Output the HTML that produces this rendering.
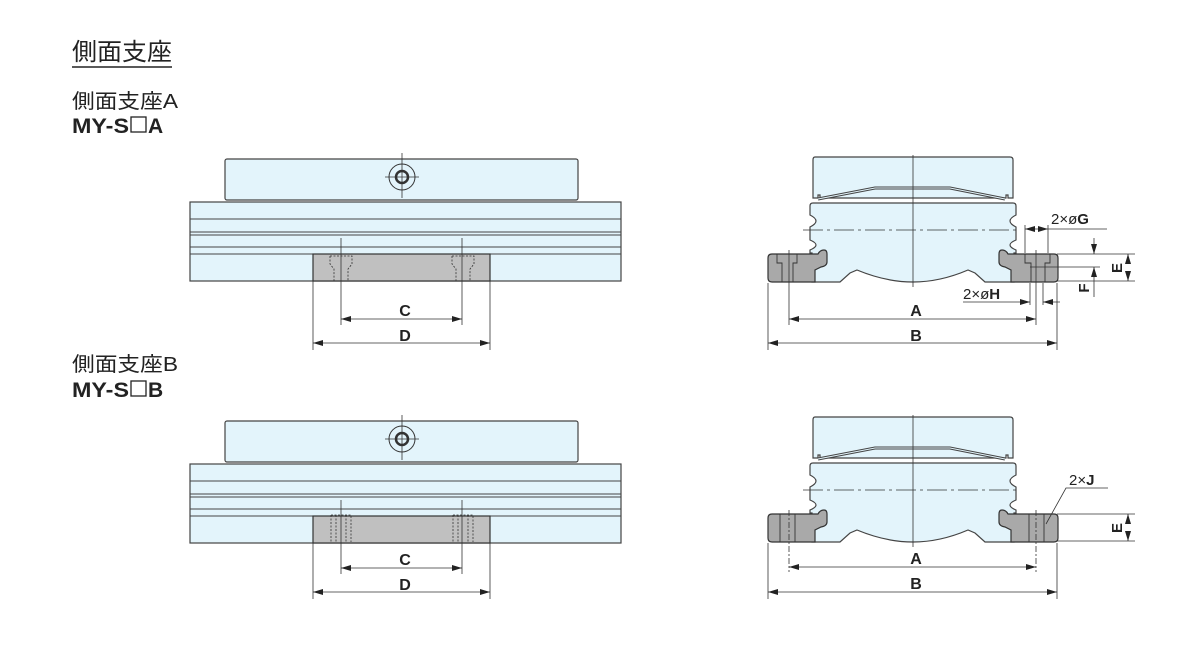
<!DOCTYPE html>
<html><head><meta charset="utf-8"><style>
html,body{margin:0;padding:0;background:#fff;width:1200px;height:650px;overflow:hidden}
svg{display:block}
text{font-family:"Liberation Sans","Noto Sans CJK JP",sans-serif;fill:#222}
</style></head><body>
<svg width="1200" height="650" viewBox="0 0 1200 650" xmlns="http://www.w3.org/2000/svg">
<defs>
<marker id="ar" viewBox="0 0 10 6" refX="10" refY="3" markerWidth="10" markerHeight="6" orient="auto-start-reverse" markerUnits="userSpaceOnUse"><path d="M0,0L10,3L0,6z" fill="#222"/></marker>
<g id="side">
 <rect x="225" y="159" width="353" height="41" rx="2" fill="#e3f4fb" stroke="#444" stroke-width="1.2"/>
 <circle cx="402" cy="177" r="13" fill="none" stroke="#333" stroke-width="1"/>
 <circle cx="402" cy="177" r="6" fill="#e3f4fb" stroke="#333" stroke-width="2.5"/>
 <line x1="385" y1="177" x2="419" y2="177" stroke="#333" stroke-width="0.8"/>
 <line x1="402" y1="153" x2="402" y2="198" stroke="#333" stroke-width="0.8"/>
 <rect x="190" y="202" width="431" height="79" fill="#e3f4fb" stroke="#444" stroke-width="1.2"/>
 <line x1="190" y1="219" x2="621" y2="219" stroke="#444"/>
 <line x1="190" y1="232" x2="621" y2="232" stroke="#444"/>
 <line x1="190" y1="235" x2="621" y2="235" stroke="#444"/>
 <line x1="190" y1="247" x2="621" y2="247" stroke="#444"/>
 <line x1="190" y1="254" x2="621" y2="254" stroke="#444"/>
 <rect x="313" y="254" width="177" height="27" fill="#c0c0c0" stroke="#333" stroke-width="1.2"/>
</g>
<g id="front">
 <path d="M815,157H1010q3,0 3,3V198H1008v-3h-2v3H820v-3h-2v3H813V160q0,-3 2,-3Z" fill="#e3f4fb" stroke="#444" stroke-width="1.2"/>
 <polyline points="818,199 875,188 950,188 1005,199" fill="none" stroke="#444" stroke-width="3"/>
 <polyline points="818,199 875,188 950,188 1005,199" fill="none" stroke="#e3f4fb" stroke-width="1"/>
 <path d="M813,203H1013q3,0 3,3V215Q1004,221 1016,227V240Q1004,245 1016,250V253H1014V282H985L975,273L968,270Q940,282 913,282Q886,282 857,270L850,273L840,282H812V253H810V250Q822,245 810,240V227Q822,221 810,215V206q0,-3 3,-3Z" fill="#e3f4fb" stroke="#444" stroke-width="1.2"/>
 <path d="M772,254H818Q820,250 824,250Q827,250 827,254V262Q827,266 821,267L815,270V282H772Q768,282 768,278V258Q768,254 772,254Z" fill="#a9a9a9" stroke="#333" stroke-width="1.2"/>
 <path d="M1054,254H1008Q1006,250 1002,250Q999,250 999,254V262Q999,266 1005,267L1011,270V282H1054Q1058,282 1058,278V258Q1058,254 1054,254Z" fill="#a9a9a9" stroke="#333" stroke-width="1.2"/>
 <line x1="913" y1="155" x2="913" y2="287" stroke="#333" stroke-width="0.8"/>
 <line x1="803" y1="230" x2="1020" y2="230" stroke="#333" stroke-width="0.8" stroke-dasharray="20,4,3,4"/>
</g>
</defs>

<text x="72" y="60" font-size="24" textLength="100" lengthAdjust="spacingAndGlyphs">側面支座</text>
<line x1="72" y1="67" x2="172" y2="67" stroke="#222" stroke-width="1.5"/>
<text x="72" y="108" font-size="20" textLength="106" lengthAdjust="spacingAndGlyphs">側面支座A</text>
<text x="72" y="133" font-size="21" font-weight="bold" textLength="57" lengthAdjust="spacingAndGlyphs">MY-S</text>
<rect x="131" y="117" width="15" height="15" fill="none" stroke="#222" stroke-width="1.3"/>
<text x="148" y="133" font-size="21" font-weight="bold">A</text>
<text x="72" y="371" font-size="20" textLength="106" lengthAdjust="spacingAndGlyphs">側面支座B</text>
<text x="72" y="397" font-size="21" font-weight="bold" textLength="57" lengthAdjust="spacingAndGlyphs">MY-S</text>
<rect x="131" y="381" width="15" height="15" fill="none" stroke="#222" stroke-width="1.3"/>
<text x="148" y="397" font-size="21" font-weight="bold">B</text>

<!-- Left A -->
<use href="#side"/>
<g stroke="#333" stroke-width="0.8" fill="none" stroke-dasharray="2,1.5">
 <path d="M330,256h22v8l-4,5v12M330,256v8l4,5v12"/>
 <path d="M452,256h22v8l-4,5v12M452,256v8l4,5v12"/>
</g>
<g stroke="#333" stroke-width="0.8">
 <line x1="341" y1="238" x2="341" y2="325"/><line x1="462" y1="238" x2="462" y2="325"/>
 <line x1="313" y1="281" x2="313" y2="350"/><line x1="490" y1="281" x2="490" y2="350"/>
 <line x1="341" y1="319" x2="462" y2="319" marker-start="url(#ar)" marker-end="url(#ar)"/>
 <line x1="313" y1="343" x2="490" y2="343" marker-start="url(#ar)" marker-end="url(#ar)"/>
</g>
<text x="405" y="316" font-size="16" font-weight="bold" text-anchor="middle">C</text>
<text x="405" y="341" font-size="16" font-weight="bold" text-anchor="middle">D</text>

<!-- Left B -->
<g transform="translate(0,262)">
<use href="#side"/>
<g stroke="#333" stroke-width="0.8" fill="none" stroke-dasharray="2,1.5">
 <path d="M331,253h20v27M331,253v27M336,253v27M346,253v27"/>
 <path d="M453,253h20v27M453,253v27M458,253v27M468,253v27"/>
</g>
<g stroke="#333" stroke-width="0.8">
 <line x1="341" y1="238" x2="341" y2="312"/><line x1="462" y1="238" x2="462" y2="312"/>
 <line x1="313" y1="281" x2="313" y2="337"/><line x1="490" y1="281" x2="490" y2="337"/>
 <line x1="341" y1="306" x2="462" y2="306" marker-start="url(#ar)" marker-end="url(#ar)"/>
 <line x1="313" y1="330" x2="490" y2="330" marker-start="url(#ar)" marker-end="url(#ar)"/>
</g>
<text x="405" y="303" font-size="16" font-weight="bold" text-anchor="middle">C</text>
<text x="405" y="328" font-size="16" font-weight="bold" text-anchor="middle">D</text>
</g>

<!-- Right A -->
<use href="#front"/>
<g stroke="#333" stroke-width="0.9" fill="none">
 <path d="M777,254h20v9h-4v19h-11v-19h-5z"/>
 <path d="M1025,254h25v9h-5v19h-14v-19h-6z"/>
</g>
<g stroke="#333" stroke-width="0.8">
 <line x1="789" y1="250" x2="789" y2="325"/><line x1="1036" y1="250" x2="1036" y2="325"/>
 <line x1="768" y1="283" x2="768" y2="350"/><line x1="1057" y1="283" x2="1057" y2="350"/>
 <line x1="789" y1="319" x2="1036" y2="319" marker-start="url(#ar)" marker-end="url(#ar)"/>
 <line x1="768" y1="343" x2="1057" y2="343" marker-start="url(#ar)" marker-end="url(#ar)"/>
 <line x1="1025" y1="225" x2="1025" y2="253"/><line x1="1048" y1="225" x2="1048" y2="253"/>
 <line x1="1025" y1="229" x2="1048" y2="229" marker-start="url(#ar)" marker-end="url(#ar)"/>
 <line x1="1048" y1="229" x2="1107" y2="229"/>
 <line x1="1030" y1="283" x2="1030" y2="305"/><line x1="1043" y1="283" x2="1043" y2="305"/>
 <line x1="963" y1="302" x2="1030" y2="302" marker-end="url(#ar)"/>
 <line x1="1060" y1="302" x2="1043" y2="302" marker-end="url(#ar)"/>
 <line x1="1057" y1="254" x2="1135" y2="254"/>
 <line x1="1030" y1="267" x2="1100" y2="267"/>
 <line x1="1057" y1="281" x2="1135" y2="281"/>
 <line x1="1094" y1="238" x2="1094" y2="254" marker-end="url(#ar)"/>
 <line x1="1094" y1="297" x2="1094" y2="267" marker-end="url(#ar)"/>
 <line x1="1128" y1="262" x2="1128" y2="254" marker-end="url(#ar)"/>
 <line x1="1128" y1="273" x2="1128" y2="281" marker-end="url(#ar)"/>
</g>
<text x="916" y="316" font-size="16" font-weight="bold" text-anchor="middle">A</text>
<text x="916" y="341" font-size="16" font-weight="bold" text-anchor="middle">B</text>
<text x="1051" y="224" font-size="15">2×ø<tspan font-weight="bold">G</tspan></text>
<text x="963" y="299" font-size="15">2×ø<tspan font-weight="bold">H</tspan></text>
<text font-size="15" font-weight="bold" transform="translate(1122,268) rotate(-90)" text-anchor="middle">E</text>
<text font-size="15" font-weight="bold" transform="translate(1089,288) rotate(-90)" text-anchor="middle">F</text>

<!-- Right B -->
<g transform="translate(0,260)">
<use href="#front"/>
<g stroke="#333" stroke-width="0.9" fill="none">
 <rect x="780" y="254" width="15" height="28"/>
 <rect x="1029" y="254" width="15" height="28"/>
</g>
<line x1="789" y1="250" x2="789" y2="312" stroke="#333" stroke-width="0.8" stroke-dasharray="6,2,2,2"/>
<line x1="1036" y1="250" x2="1036" y2="312" stroke="#333" stroke-width="0.8" stroke-dasharray="6,2,2,2"/>
<g stroke="#333" stroke-width="0.8">
 <line x1="768" y1="283" x2="768" y2="339"/><line x1="1057" y1="283" x2="1057" y2="339"/>
 <line x1="789" y1="307" x2="1036" y2="307" marker-start="url(#ar)" marker-end="url(#ar)"/>
 <line x1="768" y1="332" x2="1057" y2="332" marker-start="url(#ar)" marker-end="url(#ar)"/>
 <line x1="1057" y1="254" x2="1135" y2="254"/>
 <line x1="1057" y1="281" x2="1135" y2="281"/>
 <line x1="1128" y1="262" x2="1128" y2="254" marker-end="url(#ar)"/>
 <line x1="1128" y1="273" x2="1128" y2="281" marker-end="url(#ar)"/>
 <polyline points="1108,228 1066,228 1046,264" fill="none"/>
</g>
<text x="916" y="304" font-size="16" font-weight="bold" text-anchor="middle">A</text>
<text x="916" y="329" font-size="16" font-weight="bold" text-anchor="middle">B</text>
<text x="1069" y="225" font-size="15">2×<tspan font-weight="bold">J</tspan></text>
<text font-size="15" font-weight="bold" transform="translate(1122,268) rotate(-90)" text-anchor="middle">E</text>
</g>
</svg>
</body></html>
